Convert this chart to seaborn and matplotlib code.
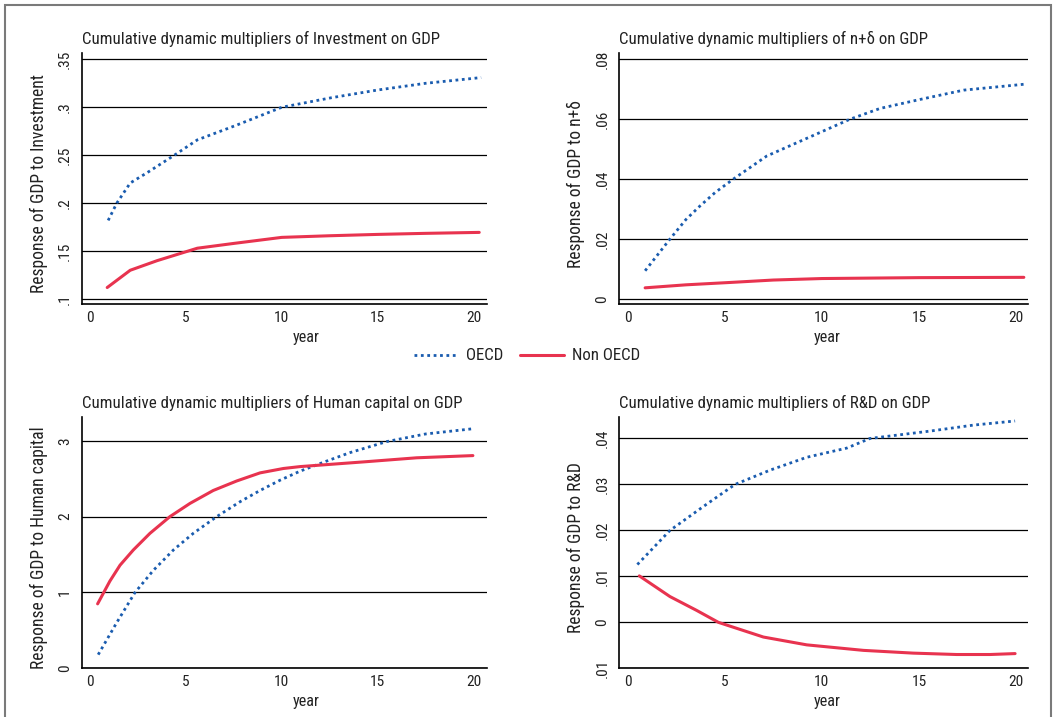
import matplotlib
matplotlib.use("Agg")
import matplotlib.pyplot as plt
from matplotlib import font_manager as fm
from matplotlib.patches import Rectangle
import seaborn as sns
import pandas as pd

# ---------------- data ----------------
inv_oecd_x = [0.95, 1.4, 2.1, 3.0, 4.4, 5.6, 7.6, 10.0, 12.6, 15.0, 17.5, 20.4]
inv_oecd_y = [0.182, 0.200, 0.221, 0.232, 0.250, 0.266, 0.281, 0.300, 0.310, 0.318, 0.325, 0.331]
inv_non_x = [0.9, 2.1, 3.5, 5.6, 7.5, 10.0, 12.5, 15.0, 17.5, 20.3]
inv_non_y = [0.112, 0.130, 0.140, 0.153, 0.158, 0.1643, 0.166, 0.1674, 0.1685, 0.1695]

nd_oecd_x = [0.9, 2.18, 3.0, 3.72, 4.5, 5.44, 7.16, 9.22, 11.45, 13.0, 15.06, 17.3, 20.46]
nd_oecd_y = [0.0094, 0.020, 0.0265, 0.031, 0.0355, 0.040, 0.0477, 0.0536, 0.060, 0.0636,
             0.0666, 0.0697, 0.0717]
nd_non_x = [0.9, 3.0, 5.3, 7.5, 10.0, 15.0, 20.4]
nd_non_y = [0.0037, 0.0047, 0.0055, 0.0063, 0.0068, 0.0071, 0.0072]

hc_oecd_x = [0.43, 1.39, 2.35, 3.30, 4.35, 5.39, 6.61, 7.83, 8.87, 9.91, 10.96,
             12.26, 13.57, 15.48, 17.5, 20.0]
hc_oecd_y = [0.18, 0.60, 1.00, 1.29, 1.56, 1.78, 2.00, 2.197, 2.345, 2.48, 2.60,
             2.725, 2.845, 2.99, 3.09, 3.16]
hc_non_x = [0.40, 1.04, 1.57, 2.26, 3.13, 4.17, 5.22, 6.43, 7.65, 8.87, 10.09,
            10.96, 14.43, 17.04, 19.97]
hc_non_y = [0.85, 1.15, 1.36, 1.56, 1.78, 2.00, 2.175, 2.345, 2.47, 2.577, 2.635,
            2.66, 2.725, 2.776, 2.805]

rd_oecd_x = [0.5, 2.18, 3.9, 5.53, 7.33, 9.22, 11.28, 12.48, 15.57, 17.8, 19.95]
rd_oecd_y = [0.01257, 0.020, 0.0252, 0.030, 0.0331, 0.0359, 0.0379, 0.040, 0.0416, 0.0429, 0.0438]
rd_non_x = [0.6, 2.18, 3.55, 4.67, 6.99, 9.22, 12.14, 14.71, 16.94, 18.66, 19.95]
rd_non_y = [0.0101, 0.0056, 0.0026, 0.0, -0.0032, -0.0049, -0.0061, -0.0067, -0.0070, -0.0070, -0.0068]

titles = [
    "Cumulative dynamic multipliers of Investment on GDP",
    "Cumulative dynamic multipliers of n+\u03b4 on GDP",
    "Cumulative dynamic multipliers of Human capital on GDP",
    "Cumulative dynamic multipliers of R&D on GDP",
]
ylabels = [
    "Response of GDP to Investment",
    "Response of GDP to n+\u03b4",
    "Response of GDP to Human capital",
    "Response of GDP to R&D",
]
xticks = [0, 5, 10, 15, 20]
xtick_labels = ["0", "5", "10", "15", "20"]
yticks = [
    [0.10, 0.15, 0.20, 0.25, 0.30, 0.35],
    [0.0, 0.02, 0.04, 0.06, 0.08],
    [0, 1, 2, 3],
    [-0.01, 0.0, 0.01, 0.02, 0.03, 0.04],
]
ytick_labels = [
    [".1", ".15", ".2", ".25", ".3", ".35"],
    ["0", ".02", ".04", ".06", ".08"],
    ["0", "1", "2", "3"],
    [".01", "0", ".01", ".02", ".03", ".04"],
]
series_names = ["OECD", "Non OECD"]

# ---------------- font choice (prefer a narrow sans) ----------------
sns.set_theme(style="white")
entries = fm.fontManager.ttflist
names = {f.name for f in entries}
family, stretch = None, "normal"
for n in ["Liberation Sans Narrow", "Roboto Condensed", "Arial Narrow"]:
    if n in names:
        family = n
        break
if family is None:
    for pref in ["Noto Sans", "Open Sans", "DejaVu Sans", "Roboto", "Lato", "Inter"]:
        hits = [f for f in entries if f.name == pref and
                str(f.stretch) in ("condensed", "semi-condensed", "extra-condensed")
                and f.style == "normal"]
        if hits:
            family, stretch = pref, str(hits[0].stretch)
            break
if family is None:
    family = "Roboto" if "Roboto" in names else "Liberation Sans"
plt.rcParams["font.family"] = [family, "DejaVu Sans"]
plt.rcParams["font.stretch"] = stretch
plt.rcParams["axes.linewidth"] = 1.0

W, H = 1055, 717
fig = plt.figure(figsize=(W / 100, H / 100), dpi=100)
fig.patch.set_facecolor("white")

# scale font sizes so that the first title spans its reference width
renderer = fig.canvas.get_renderer()
probe = fig.text(0, 0, titles[0], fontsize=12)
wpx = probe.get_window_extent(renderer).width
probe.remove()
s = max(0.72, min(1.2, 356.0 / wpx))
FS_TITLE = 12 * s
FS_YLAB = 12.5 * s
FS_XLAB = 11.5 * s
FS_TICK = 11 * s
FS_LEG = 12 * s

BLUE = "#1a5caf"
RED = "#e8334f"
DOT = (0, (1, 1.3))

# outer frame
fig.add_artist(Rectangle((5 / W, -0.01), (1051 - 5) / W, 1.01 - 5 / H,
                         transform=fig.transFigure, fill=False,
                         edgecolor="#7a7a7a", linewidth=1.5))

# axes boxes in pixels: left, top, right, bottom
boxes = [
    (81.7, 53.3, 486.7, 304.3),
    (619.3, 53.3, 1028.3, 304.3),
    (81.7, 417.3, 486.7, 668.3),
    (619.3, 417.3, 1028.3, 668.3),
]
xlims = [(-0.43, 20.69), (-0.43, 20.63), (-0.43, 20.69), (-0.43, 20.63)]
ylims = [(0.0945, 0.3563), (-0.0018, 0.082), (0.0, 3.31), (-0.01, 0.0446)]
xlabel_x = [0.554, 0.509, 0.554, 0.509]

data = [
    (inv_oecd_x, inv_oecd_y, inv_non_x, inv_non_y),
    (nd_oecd_x, nd_oecd_y, nd_non_x, nd_non_y),
    (hc_oecd_x, hc_oecd_y, hc_non_x, hc_non_y),
    (rd_oecd_x, rd_oecd_y, rd_non_x, rd_non_y),
]

axes = []
for i, (l, t, r, b) in enumerate(boxes):
    ax = fig.add_axes([l / W, 1 - b / H, (r - l) / W, (b - t) / H])
    axes.append(ax)
    ax.set_facecolor("white")
    ox, oy, nx, ny = data[i]
    d_o = pd.DataFrame({"year": ox, "resp": oy})
    d_n = pd.DataFrame({"year": nx, "resp": ny})
    sns.lineplot(data=d_o, x="year", y="resp", ax=ax, color=BLUE,
                 linestyle=DOT, linewidth=2.0, sort=False,
                 label=series_names[0])
    sns.lineplot(data=d_n, x="year", y="resp", ax=ax, color=RED,
                 linewidth=2.2, sort=False, label=series_names[1])
    if ax.get_legend() is not None:
        ax.get_legend().remove()

    ax.set_xlim(*xlims[i])
    ax.set_ylim(*ylims[i])
    for yv in yticks[i]:
        ax.axhline(yv, color="black", linewidth=0.9, zorder=0.5)
    ax.set_xticks(xticks, xtick_labels, fontsize=FS_TICK)
    ax.set_yticks(yticks[i], ytick_labels[i], fontsize=FS_TICK, rotation=90, va="center")
    ax.tick_params(axis="x", length=0, pad=5, colors="#222222")
    ax.tick_params(axis="y", length=3, width=1, direction="out", pad=4,
                   colors="black", labelcolor="#222222")
    for sp in ["top", "right"]:
        ax.spines[sp].set_visible(False)
    for sp in ["left", "bottom"]:
        ax.spines[sp].set_color("black")
        ax.spines[sp].set_linewidth(1.2)

    ax.set_xlabel("year", fontsize=FS_XLAB, color="#222222")
    ax.xaxis.set_label_coords(xlabel_x[i], -33.5 / 251)
    ax.xaxis.label.set_va("center")
    ax.set_ylabel(ylabels[i], fontsize=FS_YLAB, color="#222222")
    ax.yaxis.set_label_coords(-43.0 / (r - l), 0.48)
    ax.yaxis.label.set_va("center")
    ax.text(0.0, 1 + 14.0 / 251, titles[i], transform=ax.transAxes,
            ha="left", va="center", fontsize=FS_TITLE, color="#222222")

handles, labels = axes[0].get_legend_handles_labels()
fig.legend(handles, labels, loc="center", bbox_to_anchor=(527 / W, 1 - 356 / H),
           ncol=2, frameon=False, fontsize=FS_LEG, handlelength=2.6,
           handletextpad=0.5, columnspacing=1.0, labelcolor="#222222")

fig.savefig("out.png", dpi=100, facecolor="white")
